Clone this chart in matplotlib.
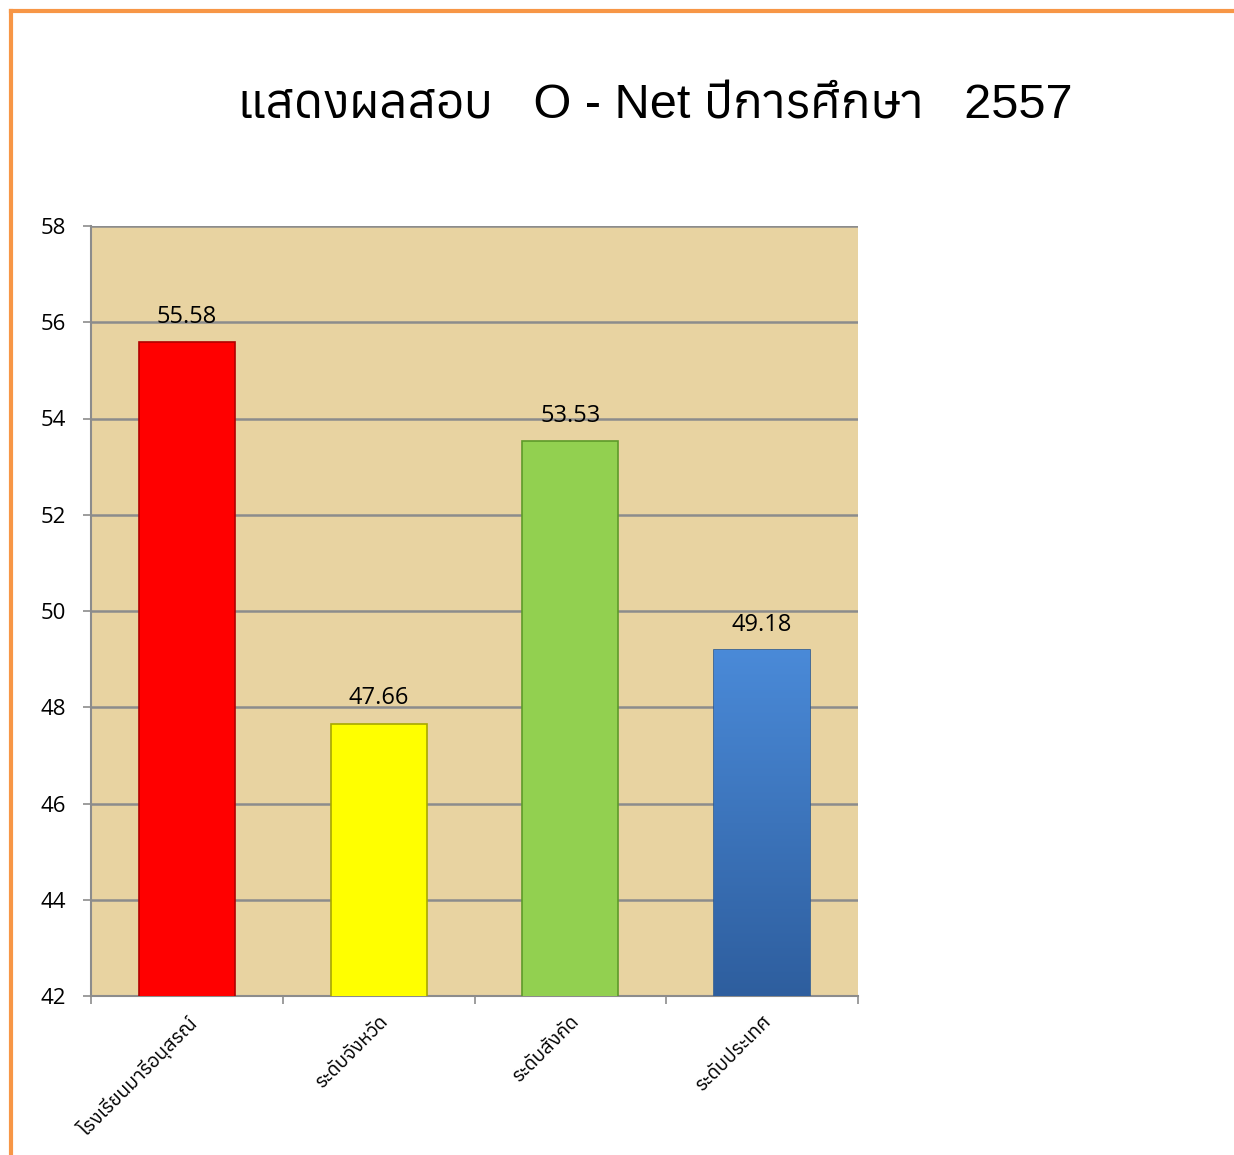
import matplotlib
matplotlib.use("Agg")
import matplotlib.pyplot as plt
from matplotlib import font_manager
from matplotlib.ft2font import FT2Font
from matplotlib.lines import Line2D
from matplotlib.colors import LinearSegmentedColormap
import numpy as np

categories = ["โรงเรียนมารีอนุสรณ์", "ระดับจังหวัด", "ระดับสังกัด", "ระดับประเทศ"]
values = [55.58, 47.66, 53.53, 49.18]
value_labels = ["55.58", "47.66", "53.53", "49.18"]
yticks = [42, 44, 46, 48, 50, 52, 54, 56, 58]
title = "แสดงผลสอบ   O - Net ปีการศึกษา   2557"

# find fonts with Thai glyphs
thai_fonts = []
for f in font_manager.fontManager.ttflist:
    try:
        ft = FT2Font(f.fname)
        cm = ft.get_charmap()
        if 0x0E01 in cm and 0x0E40 in cm:
            thai_fonts.append(f.name)
    except Exception:
        pass
thai_fonts = sorted(set(thai_fonts))
num_font = "Open Sans"
plt.rcParams['font.family'] = [num_font] + thai_fonts + ["DejaVu Sans"]

fig = plt.figure(figsize=(12.34, 11.55), dpi=100)
ax = fig.add_axes([91/1234, 1 - 996/1155, 767/1234, 770/1155])
ax.set_facecolor("#E8D3A1")

colors = ["#FF0000", "#FFFF00", "#92D050", "#3F7FD0"]
edges = ["#B00000", "#A8A800", "#5E9A2A", "#2A5A95"]
x = np.arange(len(categories))
bars = ax.bar(x, values, width=0.5, color=colors, edgecolor=edges, linewidth=1.2, zorder=3)
ax.set_ylim(42, 58)
ax.set_xlim(-0.5, 3.5)

# blue gradient overlay
b = bars[3]
grad = np.linspace(0, 1, 256).reshape(-1, 1)
cmap = LinearSegmentedColormap.from_list("bl", ["#2E5E9E", "#4A8AD8"])
im = ax.imshow(grad, cmap=cmap, aspect="auto", origin="lower",
               extent=[b.get_x(), b.get_x() + b.get_width(), 42, b.get_height()], zorder=3.5)
im.set_clip_path(b)

for xi, v, lab in zip(x, values, value_labels):
    ax.text(xi, v + 0.28, lab, ha="center", va="bottom", fontsize=17, color="black", zorder=5)

ax.set_yticks(yticks)
ax.set_yticklabels([str(t) for t in yticks], fontsize=16)
ax.yaxis.grid(True, color="#8C8C8C", linewidth=1.8, zorder=1)
ax.set_axisbelow(True)
ax.set_xticks(np.arange(-0.5, 4, 1.0), minor=False)
ax.set_xticklabels([""] * 5)
ax.set_xticks(x, minor=True)
ax.set_xticklabels(categories, minor=True, rotation=45, ha="right", rotation_mode="anchor",
                   fontsize=14, family=thai_fonts + ["DejaVu Sans"])
ax.tick_params(axis="x", which="minor", length=0, pad=12)
ax.tick_params(axis="x", which="major", length=6, color="#8C8C8C", width=1.2)
ax.tick_params(axis="y", length=6, color="#8C8C8C", width=1.2, pad=12)
for s in ["top", "right"]:
    ax.spines[s].set_visible(False)
for s in ["left", "bottom"]:
    ax.spines[s].set_color("#8C8C8C")
    ax.spines[s].set_linewidth(1.5)

fig.text(655/1234, 1 - 106/1155, title, ha="center", va="center", fontsize=35,
         family=["Liberation Sans"] + thai_fonts + ["DejaVu Sans"])

# orange frame
fig.add_artist(Line2D([11/1234, 11/1234], [0, 1 - 11/1155], color="#F79646", linewidth=3, transform=fig.transFigure))
fig.add_artist(Line2D([11/1234, 1], [1 - 11/1155, 1 - 11/1155], color="#F79646", linewidth=3, transform=fig.transFigure))

fig.savefig("out.png", dpi=100)
